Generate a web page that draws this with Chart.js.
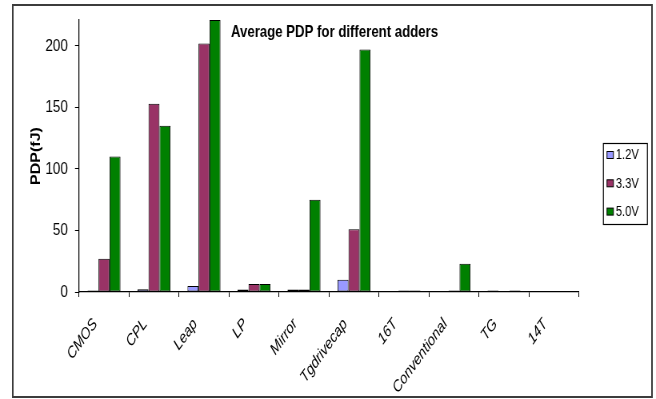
<!DOCTYPE html>
<html>
<head>
<meta charset="utf-8">
<script src="https://cdn.jsdelivr.net/npm/chart.js@4/dist/chart.umd.min.js"></script>
<style>
  html, body { margin: 0; padding: 0; background: #fff; overflow: hidden; }
  #wrap { width: 656px; height: 399px; overflow: hidden; }
  /* drawn on a wider backing canvas and shown condensed horizontally */
  #c { display: block; width: 656px; height: 399px; }
</style>
</head>
<body>
<div id="wrap"><canvas id="c" width="820" height="399" style="width:656px;height:399px"></canvas></div>
<script>
// Adder circuits compared
const categories = ['CMOS', 'CPL', 'Leap', 'LP', 'Mirror', 'Tgdrivecap', '16T', 'Conventional', 'TG', '14T'];
// Average power-delay product (fJ) per supply voltage
const pdp12 = [1.2, 2.2, 4.8, 2, 2, 10, 0, 0, 1.2, 0];
const pdp33 = [27, 153, 202, 6.5, 2, 51, 1.2, 1.2, 0, 0];
const pdp50 = [110, 135, 221, 6.5, 75, 197, 1.2, 23, 1.2, 0];
const seriesNames = ['1.2V', '3.3V', '5.0V'];
const yTicks = [0, 50, 100, 150, 200];
const yMax = 221;
const chartTitle = 'Average PDP for different adders';
const yTitle = 'PDP(fJ)';

const SANS = "'Liberation Sans', Arial, sans-serif";

// Frame, in-plot title and boxed legend
const decorations = {
  id: 'decorations',
  afterDraw(chart) {
    const ctx = chart.ctx;
    const a = chart.chartArea;
    ctx.save();
    // outer frame
    ctx.strokeStyle = '#3c3c3c';
    ctx.lineWidth = 2;
    ctx.strokeRect(16, 5, 799, 392);

    // title inside the plot area
    ctx.fillStyle = '#000';
    ctx.font = 'bold 16.5px ' + SANS;
    ctx.textAlign = 'left';
    ctx.textBaseline = 'alphabetic';
    ctx.fillText(chartTitle, a.left + 190, a.top + 17);

    // legend box
    const lx = a.right + 30, ly = a.top + 123, lw = 55, lh = 81;
    ctx.lineWidth = 1.2;
    ctx.strokeStyle = '#000';
    ctx.strokeRect(lx + 0.5, ly + 0.5, lw, lh);
    ctx.font = '14px ' + SANS;
    ctx.textBaseline = 'middle';
    chart.data.datasets.forEach((ds, i) => {
      const cy = ly + 12 + i * 28.3;
      ctx.fillStyle = ds.backgroundColor;
      ctx.fillRect(lx + 5, cy - 3.5, 8, 7);
      ctx.lineWidth = 1;
      ctx.strokeStyle = '#000';
      ctx.strokeRect(lx + 5, cy - 3.5, 8, 7);
      ctx.fillStyle = '#000';
      ctx.fillText(ds.label, lx + 16, cy + 0.5);
    });
    ctx.restore();
  }
};

const barStyle = { borderColor: '#000', borderWidth: 1, borderSkipped: false, categoryPercentage: 0.66, barPercentage: 1 };

new Chart(document.getElementById('c'), {
  type: 'bar',
  data: {
    labels: categories,
    datasets: [
      Object.assign({ label: seriesNames[0], data: pdp12, backgroundColor: '#9999FF' }, barStyle),
      Object.assign({ label: seriesNames[1], data: pdp33, backgroundColor: '#993366' }, barStyle),
      Object.assign({ label: seriesNames[2], data: pdp50, backgroundColor: '#008000' }, barStyle)
    ]
  },
  options: {
    responsive: false,
    animation: false,
    devicePixelRatio: 1,
    layout: { padding: { left: 16.25, right: 96.25, top: 20, bottom: 0 } },
    plugins: { legend: { display: false }, title: { display: false }, tooltip: { enabled: false } },
    scales: {
      x: {
        afterFit(s) { s.height = 107; },
        grid: { display: true, drawOnChartArea: false, drawTicks: true, tickLength: 5, color: '#000', offset: true },
        border: { display: true, color: '#000', width: 1.25 },
        ticks: {
          autoSkip: false, minRotation: 48, maxRotation: 48,
          padding: 18, labelOffset: -11, color: '#000',
          font: { family: SANS, size: 16, style: 'italic' }
        }
      },
      y: {
        min: 0, max: yMax,
        afterFit(s) { s.width = 82.5; },
        afterBuildTicks(s) { s.ticks = yTicks.map(v => ({ value: v })); },
        grid: { display: true, drawOnChartArea: false, drawTicks: true, tickLength: 5, color: '#000' },
        border: { display: true, color: '#000', width: 1.25 },
        ticks: { padding: 8.75, color: '#000', font: { family: SANS, size: 17 } },
        title: { display: true, text: yTitle, color: '#000', padding: { top: 20, bottom: 0 },
                 font: { family: SANS, size: 16, weight: 'bold' } }
      }
    }
  },
  plugins: [decorations]
});
</script>
</body>
</html>
